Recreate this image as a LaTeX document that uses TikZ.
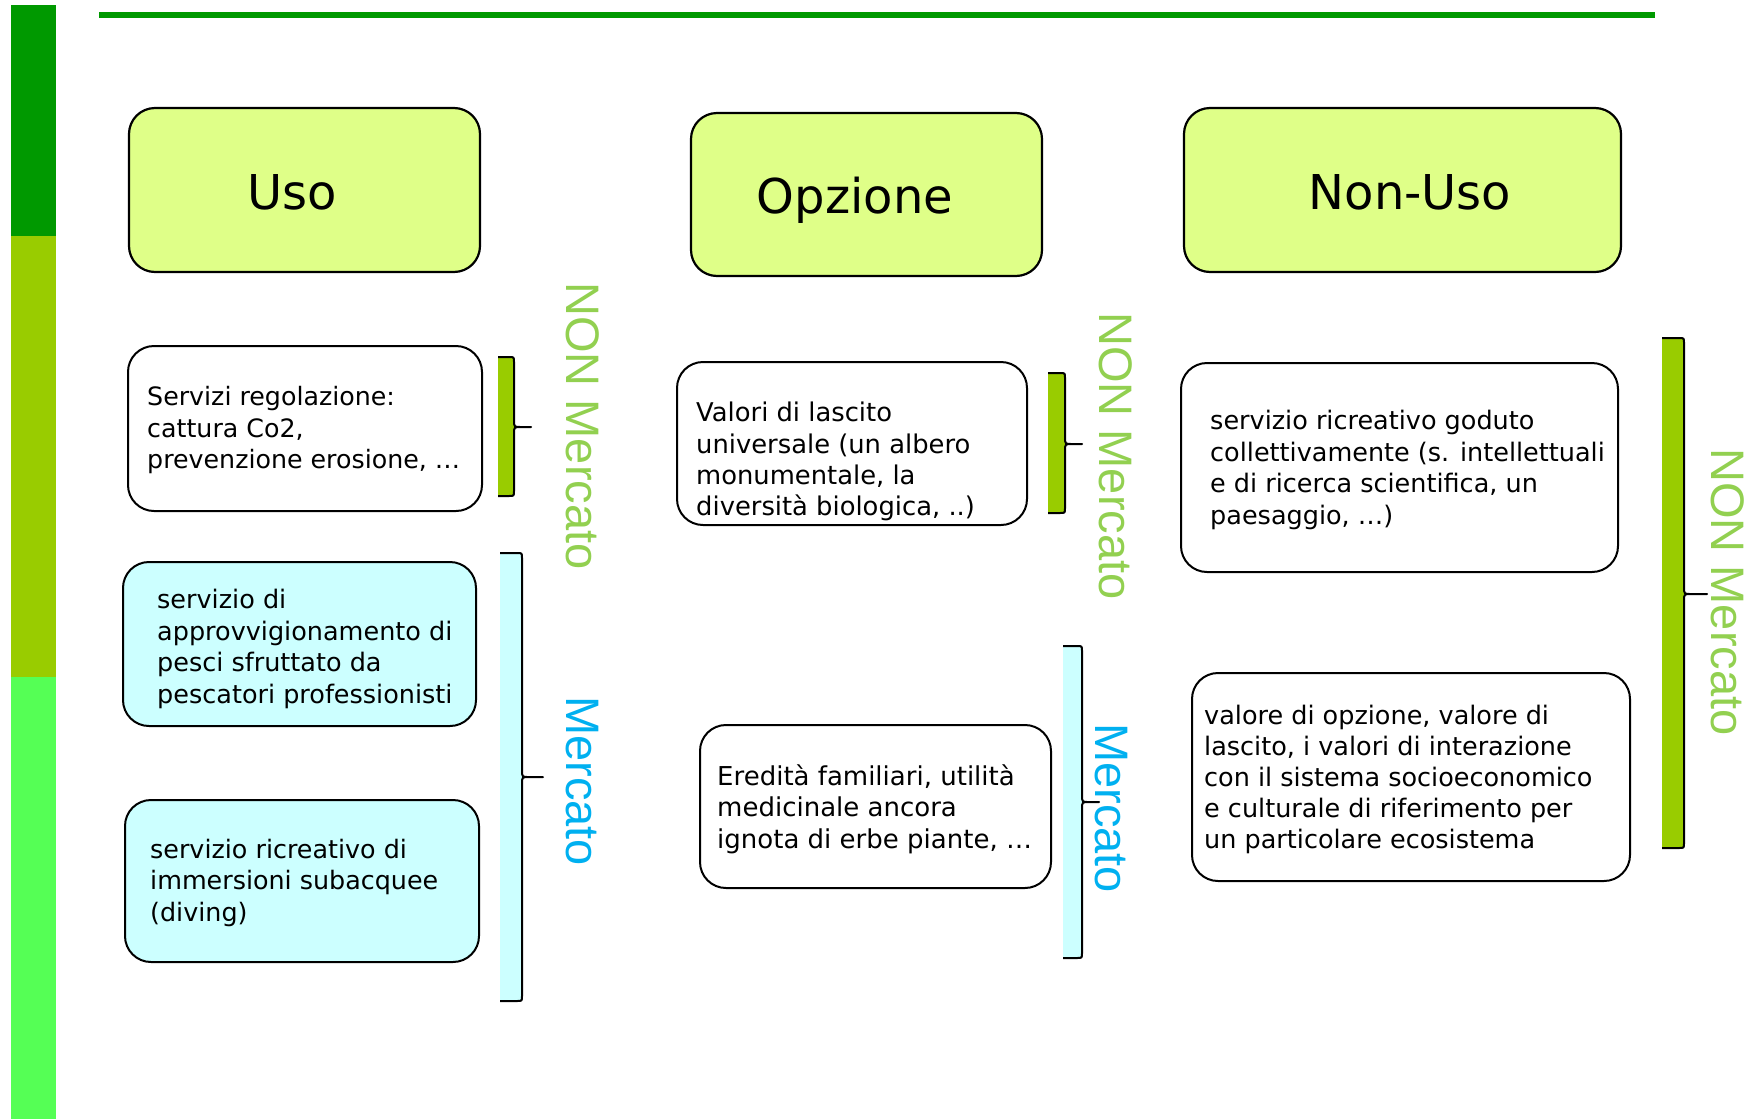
\documentclass[tikz,border=0pt]{standalone}
\usepackage{fontspec}
\setmainfont{DejaVu Sans}
\newfontfamily\vfont{Liberation Sans}
\definecolor{darkgr}{HTML}{009900}
\definecolor{midgr}{HTML}{99CC00}
\definecolor{lightgr}{HTML}{55FF55}
\definecolor{titlefill}{HTML}{DFFF88}
\definecolor{cyanfill}{HTML}{CCFFFF}
\definecolor{nongreen}{HTML}{92D050}
\definecolor{mcyan}{HTML}{00B0F0}
\newcommand\lines[1]{\begin{tabular}{@{}l@{}}#1\end{tabular}}
\newcommand\brc[7]{%
  \fill[#7] (#1,#3) rectangle (#2,#4);
  \draw[line width=2pt, line join=round] (#1,#3) -- ({#2-5},#3) .. controls (#2,#3) .. (#2,{#3+5})
    -- (#2,{#6-7}) .. controls (#2,#6) .. ({#2+7},#6) -- (#5,#6) -- ({#2+7},#6)
    .. controls (#2,#6) .. (#2,{#6+7}) -- (#2,{#4-5}) .. controls (#2,#4) .. ({#2-5},#4) -- (#1,#4);
}
\tikzset{
  titlebox/.style={draw=black, line width=2.2pt, fill=titlefill, rounded corners=26pt, inner sep=0pt},
  whitebox/.style={draw=black, line width=2pt, fill=white, rounded corners=26pt, inner sep=0pt},
  cyanbox/.style={whitebox, fill=cyanfill},
  titletext/.style={font=\fontsize{48}{58}\selectfont, anchor=base, inner sep=0pt},
  bodytext/.style={anchor=west, inner sep=0pt},
  vtext/.style={font=\vfont\fontsize{47}{56}\selectfont, rotate=-90, anchor=base, inner sep=0pt},
}
\begin{document}
\begin{tikzpicture}[x=1pt,y=-1pt]
\useasboundingbox (0,0) rectangle (1747,1119);
\fill[white] (0,0) rectangle (1747,1119);
% left bar and top line
\fill[darkgr] (11,5) rectangle (56,236);
\fill[midgr] (11,236) rectangle (56,677);
\fill[lightgr] (11,677) rectangle (56,1119);
\fill[darkgr] (99,12) rectangle (1655,18);

% title boxes
\node[titlebox, minimum width=351pt, minimum height=164pt] (uso) at (304.5,190) {};
\node[titletext] (usot) at (292.5,209.5) {Uso};
\node[titlebox, minimum width=351pt, minimum height=163pt] (opz) at (866.5,194.5) {};
\node[titletext] (opzt) at (855,213) {Opzione};
\node[titlebox, minimum width=437pt, minimum height=164pt] (nonuso) at (1402.5,190) {};
\node[titletext] (nonusot) at (1410,209.5) {Non-Uso};

% content boxes
\node[whitebox, minimum width=354pt, minimum height=165pt] (b1) at (305,428.5) {};
\node[bodytext, font=\fontsize{25.3}{31.5}\selectfont] (b1t) at ([xshift=20pt,yshift=-2.5pt]b1.west)
  {\lines{Servizi regolazione:\\cattura Co2,\\prevenzione erosione, …}};

\node[whitebox, minimum width=350pt, minimum height=163pt] (b2) at (852,443.5) {};
\node[bodytext, font=\fontsize{25.8}{31.3}\selectfont] (b2t) at ([xshift=20pt,yshift=-19pt]b2.west)
  {\lines{Valori di lascito\\universale (un albero\\monumentale, la\\diversità biologica, ..)}};

\node[whitebox, minimum width=437pt, minimum height=209pt] (b3) at (1399.5,467.5) {};
\node[bodytext, font=\fontsize{25.5}{31.5}\selectfont] (b3t) at ([xshift=30pt,yshift=-3pt]b3.west)
  {\lines{servizio ricreativo goduto\\collettivamente (s. intellettuali\\e di ricerca scientifica, un\\paesaggio, …)}};

\node[cyanbox, minimum width=353pt, minimum height=164pt] (b4) at (299.5,644) {};
\node[bodytext, font=\fontsize{25.5}{31.5}\selectfont] (b4t) at ([xshift=35pt,yshift=-5.5pt]b4.west)
  {\lines{servizio di\\approvvigionamento di\\pesci sfruttato da\\pescatori professionisti}};

\node[cyanbox, minimum width=354pt, minimum height=162pt] (b5) at (302,881) {};
\node[bodytext, font=\fontsize{25.4}{31.5}\selectfont] (b5t) at ([xshift=26pt,yshift=-2.5pt]b5.west)
  {\lines{servizio ricreativo di\\immersioni subacquee\\(diving)}};

\node[whitebox, minimum width=351pt, minimum height=163pt] (b6) at (875.5,806.5) {};
\node[bodytext, font=\fontsize{26}{31.5}\selectfont] (b6t) at ([xshift=18pt,yshift=-4pt]b6.west)
  {\lines{Eredità familiari, utilità\\medicinale ancora\\ignota di erbe piante, …}};

\node[whitebox, minimum width=438pt, minimum height=208pt] (b7) at (1411,777) {};
\node[bodytext, font=\fontsize{25.5}{31}\selectfont] (b7t) at ([xshift=13pt,yshift=-3.5pt]b7.west)
  {\lines{valore di opzione, valore di\\lascito, i valori di interazione\\con il sistema socioeconomico\\e culturale di riferimento per\\un particolare ecosistema}};

% braces
\brc{498}{514}{357}{496}{531}{427}{midgr}
\brc{500}{522}{553}{1001}{543}{777}{cyanfill}
\brc{1048}{1065}{373}{513}{1082}{444}{midgr}
\brc{1063}{1082}{646}{958}{1099}{802}{cyanfill}
\brc{1662}{1684}{338}{848}{1707}{594}{midgr}

% vertical labels
\node[vtext, text=nongreen] (nm1) at (566,426) {NON Mercato};
\node[vtext, text=mcyan] (m1) at (566,781) {Mercato};
\node[vtext, text=nongreen] (nm2) at (1099,456) {NON Mercato};
\node[vtext, text=mcyan] (m2) at (1095,808) {Mercato};
\node[vtext, text=nongreen] (nm3) at (1711,592) {NON Mercato};
\end{tikzpicture}
\end{document}
